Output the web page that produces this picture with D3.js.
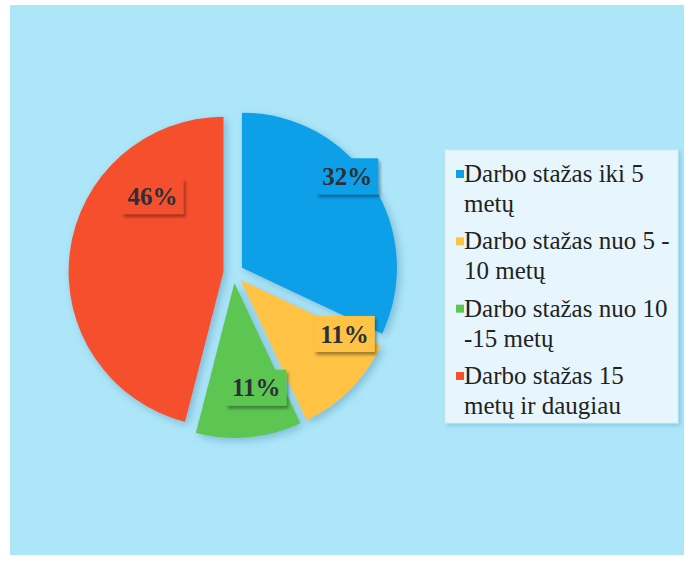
<!DOCTYPE html>
<html>
<head>
<meta charset="utf-8">
<script src="https://cdn.jsdelivr.net/npm/d3@7"></script>
<style>
  html, body { margin: 0; padding: 0; background: #ffffff; }
  svg { display: block; }
</style>
</head>
<body>
<svg id="chart" width="692" height="565"></svg>
<script>
// ---- data ----
const categories = [
  "Darbo stažas iki 5 metų",
  "Darbo stažas nuo 5 - 10 metų",
  "Darbo stažas nuo 10 -15 metų",
  "Darbo stažas 15 metų ir daugiau"
];
const values = [32, 11, 11, 46];
const valueLabels = ["32%", "11%", "11%", "46%"];
const legendLines = [
  ["Darbo stažas iki 5", "metų"],
  ["Darbo stažas nuo 5 -", "10 metų"],
  ["Darbo stažas nuo 10", "-15 metų"],
  ["Darbo stažas 15", "metų ir daugiau"]
];

// ---- styles / layout ----
const SERIF = '"Liberation Serif"';
const sliceColors = ["#0d9fe8", "#fec244", "#5dc652", "#f6502f"];
const cx = 233.5, cy = 273, R = 155, explode = 10;
// label placement inside each slice: fraction of angular span, fraction of radius
const labelPlace = [[0.426, 0.90], [0.056, 0.755], [0.34, 0.69], [0.739, 0.67]];

const svg = d3.select("#chart");
const defs = svg.append("defs");
const sh = defs.append("filter").attr("id", "pieShadow")
  .attr("x", "-20%").attr("y", "-20%").attr("width", "140%").attr("height", "140%");
sh.append("feDropShadow").attr("dx", 3).attr("dy", 3).attr("stdDeviation", 4)
  .attr("flood-color", "#3f86a8").attr("flood-opacity", 0.45);
const lsh = defs.append("filter").attr("id", "lblShadow")
  .attr("x", "-20%").attr("y", "-20%").attr("width", "140%").attr("height", "150%");
lsh.append("feDropShadow").attr("dx", 2).attr("dy", 3).attr("stdDeviation", 1.5)
  .attr("flood-color", "#000").attr("flood-opacity", 0.35);
const bsh = defs.append("filter").attr("id", "boxShadow")
  .attr("x", "-10%").attr("y", "-10%").attr("width", "120%").attr("height", "120%");
bsh.append("feDropShadow").attr("dx", 2).attr("dy", 2).attr("stdDeviation", 2)
  .attr("flood-color", "#5aa9c8").attr("flood-opacity", 0.5);

// background
svg.append("rect").attr("x", 10).attr("y", 5).attr("width", 674).attr("height", 550)
  .attr("fill", "#aee6f9");

const color = d3.scaleOrdinal().domain(categories).range(sliceColors);

const pie = d3.pie().sort(null).value(d => d.value);
const arcs = pie(categories.map((c, i) => ({ cat: c, value: values[i], label: valueLabels[i] })));
const arc = d3.arc().innerRadius(0).outerRadius(R);

function offsetOf(d) {
  const mid = (d.startAngle + d.endAngle) / 2;
  return [explode * Math.sin(mid), -explode * Math.cos(mid)];
}

const pieG = svg.append("g").attr("transform", `translate(${cx},${cy})`);
pieG.append("g").attr("filter", "url(#pieShadow)")
  .selectAll("path").data(arcs).join("path")
  .attr("transform", d => { const o = offsetOf(d); return `translate(${o[0]},${o[1]})`; })
  .attr("d", arc)
  .attr("fill", d => color(d.data.cat));

// data labels
const lblG = pieG.append("g");
arcs.forEach((d, i) => {
  const o = offsetOf(d);
  const [fa, fr] = labelPlace[i];
  const a = d.startAngle + fa * (d.endAngle - d.startAngle);
  const x = o[0] + fr * R * Math.sin(a);
  const y = o[1] - fr * R * Math.cos(a);
  const g = lblG.append("g").attr("transform", `translate(${x},${y})`);
  const rect = g.append("rect").attr("fill", color(d.data.cat)).attr("filter", "url(#lblShadow)");
  const t = g.append("text")
    .attr("text-anchor", "middle").attr("dy", "0.35em")
    .style("font-family", SERIF)
    .style("font-weight", "bold").style("font-size", "25px")
    .attr("fill", "#2b2f36")
    .text(d.data.label);
  const bb = t.node().getBBox();
  rect.attr("x", -bb.width / 2 - 6).attr("y", -18).attr("width", bb.width + 12).attr("height", 36);
});

// legend
const lx = 445, ly = 150, lw = 233, lh = 273;
svg.append("rect").attr("x", lx).attr("y", ly).attr("width", lw).attr("height", lh)
  .attr("fill", "#e7f6fc").attr("stroke", "#cdeef9").attr("stroke-width", 1)
  .attr("filter", "url(#boxShadow)");
const legG = svg.append("g");
const entryY = d3.scalePoint().domain(categories).range([182, 384]);
categories.forEach((c, i) => {
  const y0 = entryY(c);
  legG.append("rect").attr("x", 456).attr("y", y0 - 12).attr("width", 8).attr("height", 8)
    .attr("fill", color(c));
  legendLines[i].forEach((ln, j) => {
    legG.append("text")
      .attr("x", 464).attr("y", y0 + j * 30)
      .style("font-family", SERIF)
      .style("font-size", "25px").attr("fill", "#222")
      .text(ln);
  });
});
</script>
</body>
</html>
